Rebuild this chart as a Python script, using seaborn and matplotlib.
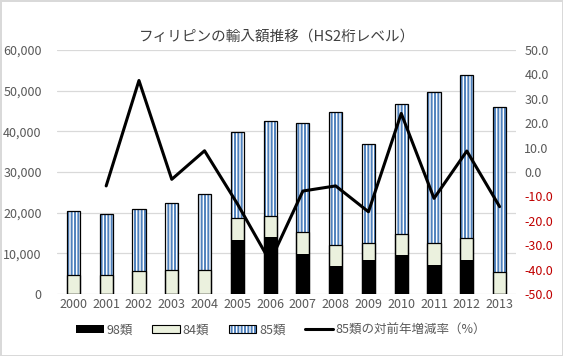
import matplotlib
matplotlib.use("Agg")
import matplotlib.pyplot as plt
from matplotlib.patches import Patch
from matplotlib.lines import Line2D
from matplotlib.legend_handler import HandlerTuple
import numpy as np
import pandas as pd
import seaborn as sns

years = ["2000", "2001", "2002", "2003", "2004", "2005", "2006",
         "2007", "2008", "2009", "2010", "2011", "2012", "2013"]
hs98 = [0, 0, 0, 0, 0, 13300, 14000, 9800, 6900, 8300, 9600, 7100, 8400, 0]
hs84 = [4600, 4600, 5600, 5800, 5800, 5500, 5300, 5500, 5100, 4200, 5100, 5400, 5300, 5300]
hs85 = [15800, 15100, 15300, 16700, 18700, 21100, 23200, 26700, 32700, 24500,
        31900, 37100, 40100, 40600]
# 85類の対前年増減率（%）, no value for 2000
rate85 = [-5.7, 37.5, -3.0, 8.7, -13.0, -36.7, -7.8, -5.7, -16.3, 24.0, -10.8, 8.6, -14.2]

BLUE = "#4f81bd"
GREEN = "#ebf1de"
GRAY = "#595959"

sns.set_style("white")
plt.rcParams['font.family'] = ['Noto Sans CJK JP', 'DejaVu Sans']
plt.rcParams['hatch.linewidth'] = 1.4

df = pd.DataFrame({"year": years, "hs98": hs98, "hs84": hs84, "hs85": hs85})
df["top84"] = df["hs98"] + df["hs84"]
df["total"] = df["top84"] + df["hs85"]

fig = plt.figure(figsize=(5.63, 3.56), dpi=100)
fig.patch.set_edgecolor("#d9d9d9")
fig.patch.set_linewidth(2)
ax = fig.add_axes([57 / 563, 1 - 294 / 356, (516 - 57) / 563, (294 - 50) / 356])

bw = 0.4
HATCH = "|||||"
# 85類 (striped), drawn as total height, then covered from below
sns.barplot(data=df, x="year", y="total", color="white", saturation=1, width=bw,
            edgecolor=BLUE, hatch=HATCH, linewidth=0, errorbar=None, ax=ax)
sns.barplot(data=df, x="year", y="top84", color=GREEN, saturation=1, width=bw,
            edgecolor="black", linewidth=0.9, errorbar=None, ax=ax)
sns.barplot(data=df, x="year", y="hs98", color="black", saturation=1, width=bw,
            linewidth=0, errorbar=None, ax=ax)
# outline of the whole column
sns.barplot(data=df, x="year", y="total", color="black", fill=False, width=bw,
            linewidth=0.9, errorbar=None, ax=ax)

ax.set_ylim(0, 60000)
ax.set_yticks(range(0, 60001, 10000))
ax.set_yticklabels([f"{v:,}" for v in range(0, 60001, 10000)])
ax.yaxis.grid(True, color="#d9d9d9", lw=0.9)
ax.set_axisbelow(True)
ax.set_xlabel("")
ax.set_ylabel("")
ax.tick_params(axis="y", length=0, colors=GRAY, labelsize=9, pad=11)
ax.tick_params(axis="x", length=0, colors=GRAY, labelsize=9, pad=3)
for s in ax.spines.values():
    s.set_visible(False)

ax2 = ax.twinx()
pos = np.arange(1, len(years))
sns.lineplot(x=pos, y=rate85, color="black", lw=2.2, ax=ax2)
ax2.set_xlim(-0.5, len(years) - 0.5)
ax2.set_ylim(-50, 50)
rticks = np.arange(-50, 51, 10)
ax2.set_yticks(rticks)
ax2.set_yticklabels([f"{t:.1f}" for t in rticks])
for t, lbl in zip(rticks, ax2.get_yticklabels()):
    lbl.set_color("#c00000" if t < 0 else GRAY)
ax2.tick_params(axis="y", length=0, labelsize=9, pad=6)
for s in ax2.spines.values():
    s.set_visible(False)

fig.text(277 / 563, 1 - 37 / 356, "フィリピンの輸入額推移（HS2桁レベル）",
         ha="center", va="center", fontsize=10.5, color="#404040")

handles = [
    Patch(facecolor="black", edgecolor="black", lw=0),
    Patch(facecolor=GREEN, edgecolor="black", lw=0.8),
    (Patch(facecolor="white", edgecolor=BLUE, hatch=HATCH, lw=0),
     Patch(facecolor="none", edgecolor="black", lw=0.8)),
    Line2D([], [], color="black", lw=2.2),
]
labels = ["98類", "84類", "85類", "85類の対前年増減率（%）"]
fig.legend(handles, labels, loc="center", bbox_to_anchor=(281 / 563, 1 - 330 / 356),
           ncol=4, frameon=False, fontsize=9, handlelength=2.2, handleheight=0.6,
           handletextpad=0.2, columnspacing=1.6, labelcolor=GRAY,
           handler_map={tuple: HandlerTuple(ndivide=1, pad=0)})

fig.savefig("out.png", dpi=100)
